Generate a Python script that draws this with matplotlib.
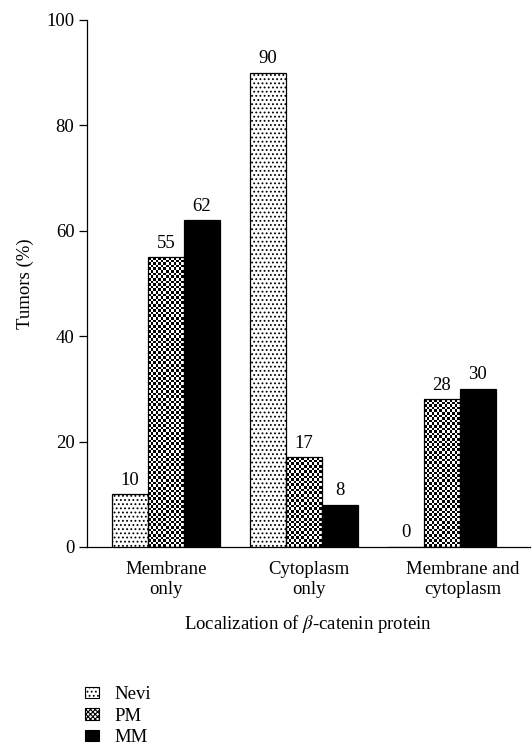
import numpy as np
import matplotlib
matplotlib.use('Agg')
import matplotlib.pyplot as plt
from matplotlib.patches import Patch
from matplotlib.transforms import ScaledTranslation

# values (percent of tumors)
groups = ['Membrane\nonly', 'Cytoplasm\nonly', 'Membrane and\ncytoplasm']
series = ['Nevi', 'PM', 'MM']
nevi = [10, 90, 0]
pm = [55, 17, 28]
mm = [62, 8, 30]

plt.rcParams['font.family'] = ['Liberation Serif', 'DejaVu Serif']
plt.rcParams['mathtext.fontset'] = 'stix'
plt.rcParams['font.size'] = 13.5
plt.rcParams['hatch.linewidth'] = 0.8

fig = plt.figure(figsize=(5.32, 7.45), dpi=100)
ax = fig.add_axes([0.1635, 0.2658, 0.8325, 0.7074])

x = np.arange(len(groups))
w = 0.26
styles = [dict(facecolor='white', hatch='....', edgecolor='black'),
          dict(facecolor='none', hatch=None, edgecolor='black'),
          dict(facecolor='black', hatch=None, edgecolor='black')]

ax.set_xlim(-0.572, 2.638)
ax.set_ylim(0, 100)

# checkerboard fill for PM, ~2.6 px cells
def checker(nx, ny):
    return (np.add.outer(np.arange(ny), np.arange(nx)) % 2).astype(float)

for i, (vals, name) in enumerate(zip([nevi, pm, mm], series)):
    bars = ax.bar(x + (i - 1) * w, vals, w, label=name, linewidth=0.9, zorder=3, **styles[i])
    for b, v in zip(bars, vals):
        ax.annotate(str(v), (b.get_x() + b.get_width() / 2, v), xytext=(0, 4),
                    textcoords='offset points', ha='center', va='bottom')
        if name == 'PM':
            nx = 14
            ny = max(1, int(round(v * 5.27 / 2.6)))
            im = ax.imshow(checker(nx, ny), cmap='gray', interpolation='nearest',
                           extent=(b.get_x(), b.get_x() + w, 0, v), aspect='auto', zorder=2)
            im.set_clip_path(b)

ax.set_yticks([0, 20, 40, 60, 80, 100])
ax.set_xticks(x)
ax.set_xticklabels(groups, linespacing=1.22)
ax.tick_params(axis='x', length=0, pad=10)
ax.tick_params(axis='y', length=6, width=0.9, direction='out', pad=3)
ax.spines['top'].set_visible(False)
ax.spines['right'].set_visible(False)
ax.spines['left'].set_linewidth(0.9)
ax.spines['bottom'].set_linewidth(0.9)

# the original nudges the outer category labels a little to the right
shifts = [0, 5, 21]
for lab, dx in zip(ax.get_xticklabels(), shifts):
    lab.set_transform(lab.get_transform() + ScaledTranslation(dx / 100, 0, fig.dpi_scale_trans))

ax.set_ylabel('Tumors (%)', labelpad=9)
ax.set_xlabel(r'Localization of $\beta$-catenin protein', labelpad=11)

# legend patches: PM handle is dark with a dense cross hatch
leg_handles = [Patch(facecolor='white', edgecolor='black', hatch='....', linewidth=0.8),
               Patch(facecolor='white', edgecolor='black', hatch='xxxxxxx', linewidth=0.8),
               Patch(facecolor='black', edgecolor='black', linewidth=0.8)]
fig.legend(leg_handles, series, loc='upper left', bbox_to_anchor=(0.16, 0.079), frameon=False,
           handlelength=0.74, handleheight=0.58, handletextpad=0.85,
           labelspacing=0.24, borderaxespad=0, borderpad=0)

fig.savefig('out.png', dpi=100)
